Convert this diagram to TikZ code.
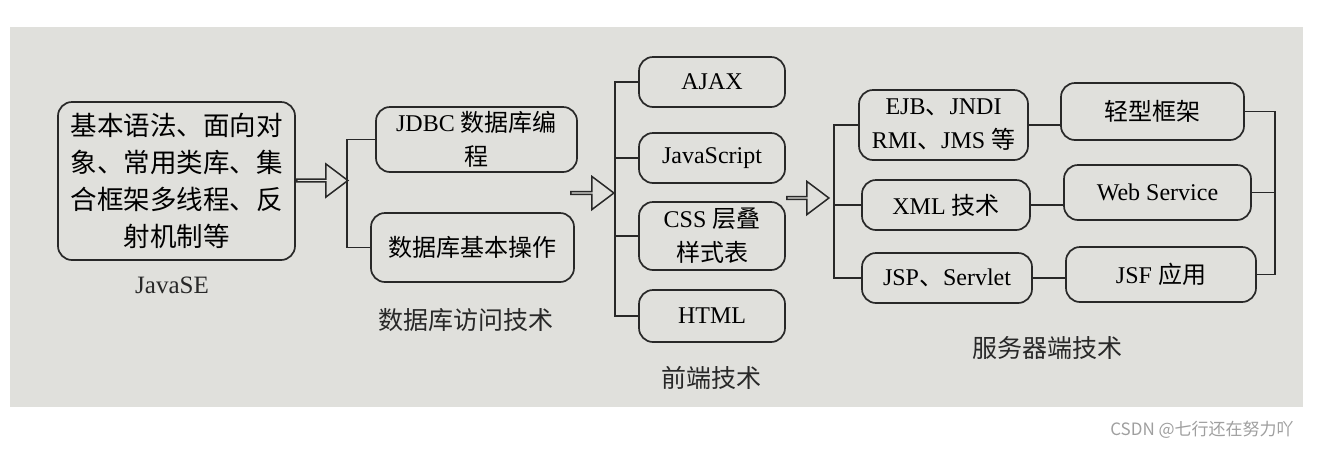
\documentclass[tikz,border=0pt]{standalone}
\usepackage{fontspec}
\setmainfont{Liberation Serif}
\newfontfamily\cjk{Noto Sans CJK SC}
\usetikzlibrary{shapes.arrows, calc}
\definecolor{paper}{RGB}{224,224,220}
\definecolor{ink}{RGB}{40,40,40}
\tikzstyle{tech} = [rectangle, rounded corners=14pt, align=center, inner sep=0pt, draw=ink, line width=1.7pt, font=\fontsize{24}{34}\selectfont]
\tikzstyle{caption} = [inner sep=0pt, text=ink, font=\fontsize{25}{30}\selectfont]
\tikzstyle{hollow} = [single arrow, draw=ink, line width=1.5pt, minimum width=33pt, single arrow head extend=8.5pt, single arrow tip angle=74, inner sep=0pt]
\tikzstyle{link} = [draw=ink, line width=1.7pt]

\begin{document}
\begin{tikzpicture}[x=1pt, y=-1pt]
		\useasboundingbox (0,0) rectangle (1323,448);
		\fill[paper] (10,27) rectangle (1303,407);
		
		% JavaSE
		\node (javase) [tech, minimum width=237pt, minimum height=158pt, font=\fontsize{26.5}{37}\selectfont] at (176.5,181) {\cjk 基本语法、面向对\\\cjk 象、常用类库、集\\\cjk 合框架多线程、反\\\cjk 射机制等};
		\node (javaselbl) [caption] at (172,285) {JavaSE};
		\node (arrowA) [hollow, minimum height=51pt] at (321.5,180.5) {};
		
		% database access
		\coordinate (forkA) at (347,0);
		\node (jdbc) [tech, minimum width=201pt, minimum height=65pt] at (476.5,139.5) {JDBC {\cjk 数据库编}\\{\cjk 程}};
		\node (dbop) [tech, minimum width=203pt, minimum height=69pt] at ($(jdbc) + (-4,108)$) {\cjk 数据库基本操作};
		\node (dblbl) [caption] at (466,320) {\cjk 数据库访问技术};
		\node (arrowB) [hollow, minimum height=43pt] at (591.5,193) {};
		
		\draw[link] (jdbc.west) -| (forkA |- dbop.west) -- (dbop.west);
		
		% front end
		\coordinate (forkB) at (615,0);
		\node (ajax) [tech, minimum width=146pt, minimum height=50pt] at (712,82) {AJAX};
		\node (js) [tech, minimum width=146pt, minimum height=50pt] at ($(ajax) + (0,76)$) {JavaScript};
		\node (css) [tech, minimum width=146pt, minimum height=68pt] at ($(js) + (0,78)$) {CSS {\cjk 层叠}\\{\cjk 样式表}};
		\node (html) [tech, minimum width=146pt, minimum height=52pt] at ($(css) + (0,80)$) {HTML};
		\node (frontlbl) [caption] at (711,378) {\cjk 前端技术};
		\node (arrowC) [hollow, minimum height=42pt] at (807,198) {};
		
		\draw[link] (ajax.west) -| (forkB |- html.west) -- (html.west);
		\draw[link] (js.west) -- (js.west -| forkB);
		\draw[link] (css.west) -- (css.west -| forkB);
		
		% server side
		\coordinate (forkC) at (834,0);
		\coordinate (forkD) at (1275,0);
		\node (ejb) [tech, minimum width=169pt, minimum height=70pt] at (943.5,125) {EJB{\cjk 、}JNDI\\RMI{\cjk 、}JMS {\cjk 等}};
		\node (xml) [tech, minimum width=168pt, minimum height=50pt] at ($(ejb) + (2.5,80)$) {XML {\cjk 技术}};
		\node (jsp) [tech, minimum width=170pt, minimum height=50pt] at ($(xml) + (1,73)$) {JSP{\cjk 、}Servlet};
		\node (light) [tech, minimum width=183pt, minimum height=57pt] at (1152.5,111.5) {\cjk 轻型框架};
		\node (ws) [tech, minimum width=187pt, minimum height=55pt] at ($(light) + (5,81)$) {Web Service};
		\node (jsf) [tech, minimum width=190pt, minimum height=55pt] at ($(ws) + (3.5,82)$) {JSF {\cjk 应用}};
		\node (serverlbl) [caption] at (1047,348) {\cjk 服务器端技术};
		
		\draw[link] (ejb.west) -| (forkC |- jsp.west) -- (jsp.west);
		\draw[link] (xml.west) -- (xml.west -| forkC);
		\draw[link] (ejb.east) -- (ejb.east -| light.west);
		\draw[link] (xml.east) -- (xml.east -| ws.west);
		\draw[link] (jsp.east) -- (jsp.east -| jsf.west);
		\draw[link] (light.east) -| (forkD |- jsf.east) -- (jsf.east);
		\draw[link] (ws.east) -- (ws.east -| forkD);
		
		\node (mark) [inner sep=0pt, text=gray!75, font=\cjk\fontsize{17}{20}\selectfont] at (1202,430) {CSDN @七行还在努力吖};
	\end{tikzpicture}
\end{document}
